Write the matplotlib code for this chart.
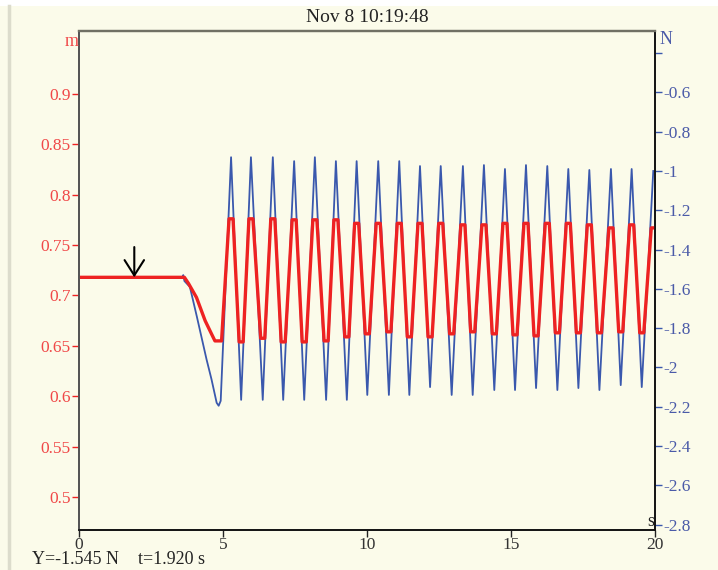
"""Recorder trace: displacement (m, red) and force (N, blue) against time."""

import matplotlib

matplotlib.use("Agg")
import matplotlib.pyplot as plt
import numpy as np

BG = "#fbfbea"
RED = "#ee2222"
BLUE = "#3a58ad"
RED_TXT = "#f04848"
BLUE_TXT = "#4a5aa8"

title = "Nov 8 10:19:48"
cursor_t = 1.92
cursor_text = ("Y=-1.545 N", "t=1.920 s")

x_ticks = [0, 5, 10, 15, 20]
left_ticks = [0.5, 0.55, 0.6, 0.65, 0.7, 0.75, 0.8, 0.85, 0.9]
left_labels = ["0.5", "0.55", "0.6", "0.65", "0.7", "0.75", "0.8", "0.85", "0.9"]
right_ticks = [-2.8, -2.6, -2.4, -2.2, -2.0, -1.8, -1.6, -1.4, -1.2, -1.0, -0.8, -0.6, -0.4]
right_labels = ["-2.8", "-2.6", "-2.4", "-2.2", "-2", "-1.8", "-1.6", "-1.4", "-1.2",
                "-1", "-0.8", "-0.6", ""]

# force (N), blue: rest level, release dip, then the oscillation extremes
blue_onset_t = [0.0, 3.58, 3.62, 3.66, 3.85, 4.09, 4.43, 4.60, 4.78, 4.85, 4.92]
blue_onset_v = [-1.545, -1.545, -1.53, -1.56, -1.59, -1.74, -1.96, -2.06, -2.18, -2.195, -2.17]
peak_t = [5.28, 5.97, 6.73, 7.47, 8.19, 8.92, 9.64, 10.39, 11.12, 11.84, 12.56,
          13.33, 14.06, 14.79, 15.52, 16.26, 16.99, 17.72, 18.47, 19.19, 19.94]
trough_t = [5.63, 6.38, 7.09, 7.82, 8.58, 9.30, 10.01, 10.76, 11.47, 12.19,
            12.94, 13.67, 14.42, 15.14, 15.87, 16.61, 17.34, 18.07, 18.81, 19.54]
blue_peak_v = [-0.93, -0.93, -0.93, -0.95, -0.93, -0.95, -0.95, -0.95, -0.95, -0.975, -0.975,
               -0.975, -0.97, -0.99, -0.97, -0.975, -0.99, -0.995, -0.99, -0.99, -1.0]
blue_trough_v = [-2.165, -2.165, -2.165, -2.165, -2.165, -2.165, -2.14, -2.14, -2.14, -2.10,
                 -2.14, -2.14, -2.115, -2.115, -2.105, -2.115, -2.105, -2.115, -2.09, -2.10]

# displacement (m), red: same timing, extremes are held flat for a short while
red_onset_t = [0.0, 3.66, 3.80, 4.08, 4.38, 4.60, 4.72, 4.95]
red_onset_v = [0.718, 0.718, 0.712, 0.698, 0.675, 0.662, 0.655, 0.655]
red_peak_v = [0.776, 0.776, 0.776, 0.775, 0.775, 0.775, 0.7715, 0.7715, 0.7715, 0.7715, 0.7715,
              0.770, 0.770, 0.7715, 0.7715, 0.7715, 0.7715, 0.770, 0.767, 0.770, 0.767]
red_trough_v = [0.654, 0.6576, 0.654, 0.654, 0.655, 0.659, 0.662, 0.664, 0.659, 0.659,
                0.662, 0.664, 0.662, 0.661, 0.660, 0.663, 0.663, 0.663, 0.664, 0.663]
red_hold = 0.07


def merge(onset_t, onset_v, ext_t, ext_v):
    t = np.concatenate([onset_t, ext_t])
    v = np.concatenate([onset_v, ext_v])
    order = np.argsort(t)
    return t[order], v[order]


ext_t = peak_t + trough_t
blue_t, blue_v = merge(blue_onset_t, blue_onset_v, ext_t, blue_peak_v + blue_trough_v)
red_ext_t = [t + d for t in ext_t for d in (-red_hold, red_hold)]
red_ext_v = [v for v in red_peak_v + red_trough_v for _ in range(2)]
red_t, red_v = merge(red_onset_t, red_onset_v, red_ext_t, red_ext_v)

plt.rcParams["font.family"] = ["Liberation Serif", "DejaVu Serif"]
fig = plt.figure(figsize=(7.18, 5.70), dpi=100, facecolor=BG)
ax = fig.add_axes([79 / 718, 40 / 570, 576 / 718, 499 / 570])
ax2 = ax.twinx()
ax.set_zorder(2)
for a in (ax, ax2):
    a.patch.set_visible(False)

ax2.plot(blue_t, blue_v, color=BLUE, lw=1.3)
ax.plot(red_t, red_v, color=RED, lw=2.4)

ax.set_xlim(0, 20)
ax.set_ylim(0.4676, 0.9621)
ax2.set_ylim(-2.8275, -0.2875)

ax.set_xticks(x_ticks)
ax.set_xticklabels([str(x) for x in x_ticks])
ax.set_yticks(left_ticks)
ax.set_yticklabels(left_labels)
ax2.set_yticks(right_ticks)
ax2.set_yticklabels(right_labels)

ax.tick_params(axis="x", colors="#222222", labelcolor="#333333", length=5, width=1,
               labelsize=12.5, pad=0)
ax.tick_params(axis="y", colors=RED, labelcolor=RED_TXT, length=5, width=1,
               labelsize=12.5, pad=1)
ax2.tick_params(axis="y", colors=BLUE, labelcolor=BLUE_TXT, length=5, width=1,
                labelsize=12.5, pad=1)

for a in (ax, ax2):
    a.spines["top"].set_color("#707064")
    a.spines["top"].set_linewidth(1.6)
    a.spines["left"].set_color("#555555")
    a.spines["left"].set_linewidth(1.4)
    a.spines["right"].set_color("#111111")
    a.spines["right"].set_linewidth(1.2)
    a.spines["bottom"].set_color("#111111")
    a.spines["bottom"].set_linewidth(1.2)

# cursor arrow
ax.annotate("", xy=(cursor_t, red_onset_v[0]), xytext=(cursor_t, red_onset_v[0] + 0.030),
            arrowprops=dict(arrowstyle="->, head_length=1.1, head_width=0.7",
                            color="black", lw=1.5, shrinkA=0, shrinkB=0))

fig.text(367 / 718, 1 - 18 / 570, title, ha="center", va="center", fontsize=14, color="#222222")
fig.text(79 / 718, 1 - 41 / 570, "m", ha="right", va="center", fontsize=13, color=RED_TXT)
fig.text(660 / 718, 1 - 40 / 570, "N", ha="left", va="center", fontsize=13, color=BLUE_TXT)
fig.text(654 / 718, 1 - 522 / 570, "s", ha="right", va="center", fontsize=13, color="#222222")
fig.text(32 / 718, 1 - 560 / 570, cursor_text[0], ha="left", va="center", fontsize=13,
         color="#222222")
fig.text(138 / 718, 1 - 560 / 570, cursor_text[1], ha="left", va="center", fontsize=13,
         color="#222222")

# window frame strips
fig.patches.append(plt.Rectangle((0, 1 - 6 / 570), 1, 6 / 570, transform=fig.transFigure,
                                 facecolor="white", edgecolor="none"))
fig.lines.append(plt.Line2D([8.5 / 718, 8.5 / 718], [0, 1 - 6 / 570], transform=fig.transFigure,
                            color="#dcdccc", lw=2.5))

fig.savefig("out.png", dpi=100, facecolor=BG)
